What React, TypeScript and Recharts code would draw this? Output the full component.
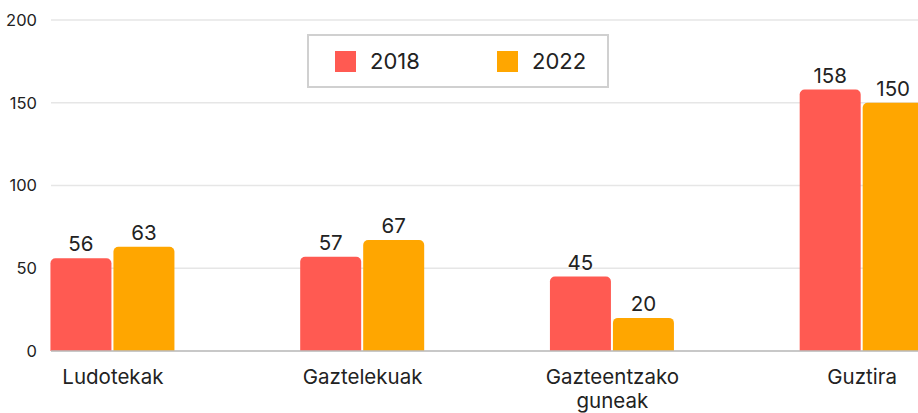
import React from 'react'
import { BarChart, Bar, XAxis, YAxis, CartesianGrid, LabelList } from 'recharts'

const categories = ['Ludotekak', 'Gaztelekuak', 'Gazteentzako guneak', 'Guztira']
const values2018 = [56, 57, 45, 158]
const values2022 = [63, 67, 20, 150]
const yTicks = [0, 50, 100, 150, 200]

const series = [
  { key: 'y2018', name: '2018', color: '#ff5a52', values: values2018 },
  { key: 'y2022', name: '2022', color: '#ffa600', values: values2022 },
]

const FONT = 'Inter, "Noto Sans", sans-serif'

const data = categories.map((c, i) => ({
  name: c,
  y2018: values2018[i],
  y2022: values2022[i],
}))

// splits two-word labels onto two lines, like the original
const CategoryTick = ({ x, y, payload }: any) => {
  const words = String(payload.value).split(' ')
  return (
    <text x={x} y={y} textAnchor="middle" fill="#222" fontSize={20.5} fontFamily={FONT}>
      {words.map((w: string, i: number) => (
        <tspan key={i} x={x} dy={i === 0 ? 25 : 24}>
          {w}
        </tspan>
      ))}
    </text>
  )
}

const LegendBox = () => (
  <div
    style={{
      position: 'absolute',
      left: 307,
      top: 34,
      width: 298,
      height: 50,
      border: '2px solid #d0d0d0',
      background: '#fff',
      fontFamily: FONT,
      fontSize: 22,
      color: '#222',
    }}
  >
    {series.map((s, i) => (
      <div
        key={s.key}
        style={{ position: 'absolute', left: 26 + i * 162, top: 14, display: 'flex', alignItems: 'center' }}
      >
        <span style={{ width: 21, height: 21, background: s.color, display: 'inline-block', marginRight: 14 }} />
        <span style={{ lineHeight: '22px' }}>{s.name}</span>
      </div>
    ))}
  </div>
)

export default function App() {
  return (
    <div style={{ position: 'absolute', left: 0, top: 0, width: 918, height: 413, overflow: 'hidden', background: '#fff' }}>
      <BarChart
        width={918}
        height={413}
        data={data}
        margin={{ top: 20, right: 0, bottom: 0, left: 0 }}
        barGap={2}
        barCategoryGap="25%"
      >
        <CartesianGrid vertical={false} stroke="#e6e6e6" strokeWidth={1.5} />
        <XAxis
          dataKey="name"
          height={62}
          padding={{ left: -63, right: -69 }}
          tickLine={false}
          axisLine={{ stroke: '#bdbdbd', strokeWidth: 1.5 }}
          tick={<CategoryTick />}
          interval={0}
        />
        <YAxis
          domain={[0, 200]}
          ticks={yTicks}
          width={51}
          tickLine={false}
          axisLine={false}
          tickSize={0}
          tickMargin={14}
          tick={{ fill: '#222', fontSize: 16.5, fontFamily: FONT }}
        />
        {series.map((s) => (
          <Bar key={s.key} dataKey={s.key} name={s.name} fill={s.color} radius={[5, 5, 0, 0]} isAnimationActive={false}>
            <LabelList dataKey={s.key} position="top" offset={7} fill="#222" fontSize={20.5} fontFamily={FONT} />
          </Bar>
        ))}
      </BarChart>
      <LegendBox />
    </div>
  )
}
